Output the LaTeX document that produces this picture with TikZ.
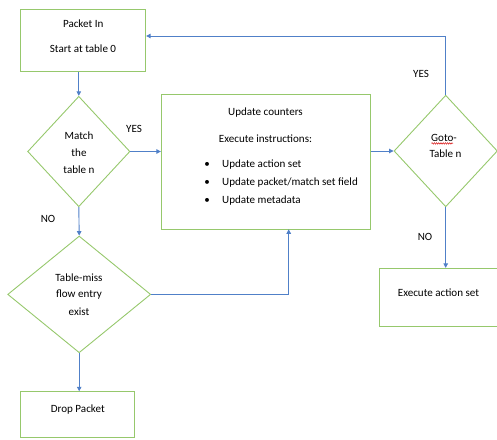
\documentclass[tikz,border=0pt]{standalone}
\usepackage{fontspec}
\setmainfont{Carlito}
\usetikzlibrary{arrows.meta,shapes.geometric,decorations.pathmorphing}
\definecolor{boxgreen}{RGB}{150,200,108}
\definecolor{flowblue}{RGB}{80,128,200}
\definecolor{spellred}{RGB}{220,40,40}
\tikzset{
  box/.style={draw=boxgreen,line width=0.9bp,fill=white,inner sep=0pt},
  decision/.style={draw=boxgreen,line width=0.9bp,shape=diamond,inner sep=0pt},
  txt/.style={inner sep=0pt,font=\fontsize{11.1}{13}\selectfont},
  flow/.style={draw=flowblue,line width=0.9bp},
  arr/.style={flow,-{Triangle[length=4.5bp,width=4.5bp]}}
}
\begin{document}
\begin{tikzpicture}[x=1bp,y=-1bp]
\useasboundingbox (0,0) rectangle (497,440);

% boxes
\node[box,minimum width=125bp,minimum height=62.4bp] (pin) at (83.2,40.5) {};
\node[box,minimum width=209bp,minimum height=135bp] (upd) at (265.8,161.8) {};
\node[box,minimum width=121bp,minimum height=57.7bp] (exec) at (439.8,297.2) {};
\node[box,minimum width=113.4bp,minimum height=46bp] (drop) at (77.4,414.7) {};

% decisions
\node[decision,minimum width=102.3bp,minimum height=110.4bp] (match) at (78.8,151.5) {};
\node[decision,minimum width=143bp,minimum height=116.7bp] (miss) at (79.2,294.4) {};
\node[decision,minimum width=103.4bp,minimum height=111.6bp] (goto) at (445.7,151) {};

% texts
\node[txt] (t1) at (83.2,23.5) {Packet In};
\node[txt] (t2) at (83,48.5) {Start at table 0};
\node[txt] (t3) at (79,136) {Match};
\node[txt] (t4) at (79,153) {the};
\node[txt] (t5) at (79,170) {table n};
\node[txt] (t6) at (79,278) {Table-miss};
\node[txt] (t7) at (79,295) {flow entry};
\node[txt] (t8) at (79,311.5) {exist};
\node[txt] (t9) at (77.8,410) {Drop Packet};
\node[txt] (t10) at (265.5,112.5) {Update counters};
\node[txt] (t11) at (265.5,138.5) {Execute instructions:};
\node[txt] (b1) at (207,165) {\textbullet};
\node[txt] (b2) at (207,183) {\textbullet};
\node[txt] (b3) at (207,201) {\textbullet};
\node[txt,anchor=west] (t12) at (222,165) {Update action set};
\node[txt,anchor=west] (t13) at (222,183) {Update packet/match set field};
\node[txt,anchor=west] (t14) at (222,201) {Update metadata};
\node[txt] (t15) at (444,138) {Goto-};
\node[txt] (t16) at (445.5,154) {Table n};
\node[txt] (t17) at (438.5,292.5) {Execute action set};
\draw[spellred,line width=0.6bp,decorate,decoration={snake,segment length=2.2bp,amplitude=0.7bp}]
  ([xshift=0.5bp,yshift=-1.6bp]t15.south west) -- ([xshift=-4bp,yshift=-1.6bp]t15.south east);

% branch labels
\node[txt] (y1) at (134,129) {YES};
\node[txt] (n1) at (48,219) {NO};
\node[txt] (y2) at (421,73.5) {YES};
\node[txt] (n2) at (425,236.5) {NO};

% connectors
\coordinate (back) at (445.7,36);
\coordinate (updin) at (288.7,229.3);
\draw[arr] (pin.south -| match.north) -- (match.north);
\draw[arr] (match.east) -- (match.east -| upd.west);
\draw[arr] (goto.west -| upd.east) -- (goto.west);
\draw[arr] (goto.north) -- (back) -- (pin.east |- back);
\draw[arr] (goto.south) -- (goto.south |- exec.north);
\draw[arr] (match.south) -- (miss.north);
\draw[arr] (miss.east) -| (updin);
\draw[arr] (miss.south) -- (drop.north -| miss.south);
\end{tikzpicture}
\end{document}
